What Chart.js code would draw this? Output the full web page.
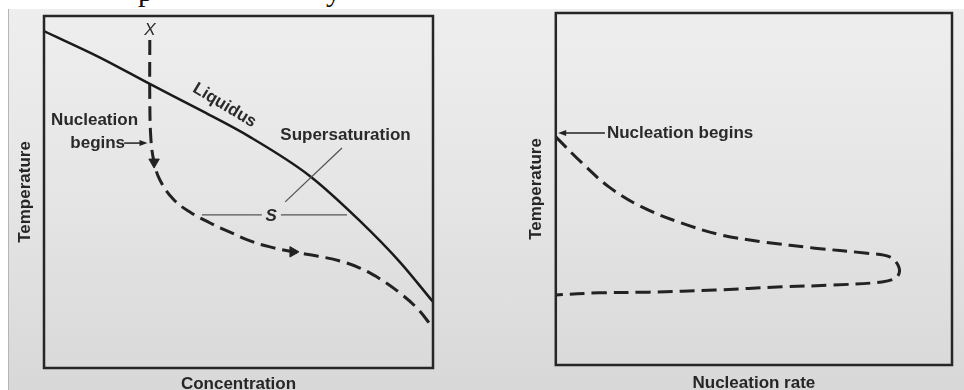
<!DOCTYPE html>
<html>
<head>
<meta charset="utf-8">
<script src="https://cdn.jsdelivr.net/npm/chart.js@4.4.1/dist/chart.umd.min.js"></script>
<style>
  html, body { margin: 0; padding: 0; width: 964px; height: 390px; overflow: hidden; background: #fff; }
  #photo {
    position: absolute; left: 8px; top: 9px; width: 956px; height: 381px;
    background: linear-gradient(to bottom, #eeeeee 0%, #e6e6e6 45%, #d8d8d8 100%);
    border-left: 1px solid #b5b5b5;
  }
  .pagetext { position: absolute; top: -24px; font: 30px 'Liberation Serif', serif; line-height: 30px; color: #111; }
  canvas { position: absolute; top: 0; }
  #left { left: 0; }
  #right { left: 482px; }
</style>
</head>
<body>
<div id="photo"></div>
<span class="pagetext" style="left:138px">p</span>
<span class="pagetext" style="left:326px">y</span>
<canvas id="left" width="482" height="400"></canvas>
<canvas id="right" width="482" height="400"></canvas>
<script>
'use strict';

// left panel: liquidus and the cooling path, both on a 0-100 scale
const liquidusX = [0, 14.4, 27.2, 40.1, 53.0, 68.4, 81.2, 91.5, 100];
const liquidusY = [95.7, 88.2, 80.7, 73.3, 65.6, 54.5, 41.8, 30.1, 18.8];
const pathX = [27.2, 27.2, 27.5, 28.3, 29.8, 33.2, 37.5, 42.7, 47.8, 53.0, 58.1, 64.0, 70.2, 76.1, 81.2, 86.4, 91.5, 95.9, 100];
const pathY = [93.2, 76.1, 64.8, 58.5, 53.4, 48.0, 44.3, 41.2, 38.6, 36.1, 34.4, 33.0, 31.8, 30.4, 28.4, 25.3, 21.3, 17.0, 11.4];

// right panel: nucleation rate against temperature
const rateX = [0, 6.6, 13.4, 21.7, 31.8, 41.9, 52.8, 65.4, 78.0, 84.3, 86.6, 86.1, 82.3, 69.7, 57.1, 40.2, 23.5, 10.9, 0];
const rateY = [64.8, 57.4, 50.6, 44.9, 40.3, 36.9, 34.9, 33.2, 31.8, 30.7, 27.8, 25.0, 23.6, 22.7, 22.2, 21.3, 20.7, 20.5, 19.9];

const FONT = "'Liberation Sans', Arial, sans-serif";
const INK = '#222';

const toPoints = (xs, ys) => xs.map((x, i) => ({x: x, y: ys[i]}));

function axis(title, pad) {
    return {
        type: 'linear',
        min: 0,
        max: 100,
        ticks: {display: false},
        grid: {display: false, drawTicks: false},
        border: {display: false},
        title: {
            display: true,
            text: title,
            color: '#262626',
            font: {family: FONT, size: 17, weight: 'bold', lineHeight: 1.2},
            padding: pad
        }
    };
}

// frame round the plot area, plus labels and arrows in data units
const notes = {
    id: 'notes',
    afterDraw(chart, args, opts) {
        const {ctx, chartArea: a} = chart;
        const sx = v => chart.scales.x.getPixelForValue(v);
        const sy = v => chart.scales.y.getPixelForValue(v);
        ctx.save();
        ctx.strokeStyle = '#262626';
        ctx.lineWidth = 2.5;
        ctx.strokeRect(a.left, a.top, a.width, a.height);

        (opts.items || []).forEach(it => {
            if (it.type === 'text') {
                ctx.save();
                ctx.translate(sx(it.x), sy(it.y));
                ctx.rotate((it.rot || 0) * Math.PI / 180);
                ctx.font = it.font || ('bold 17px ' + FONT);
                ctx.fillStyle = '#2a2a2a';
                ctx.textAlign = it.align || 'center';
                ctx.textBaseline = 'middle';
                ctx.fillText(it.text, 0, 0);
                ctx.restore();
            } else if (it.type === 'line') {
                ctx.strokeStyle = it.color || '#555';
                ctx.lineWidth = it.width || 1.3;
                ctx.beginPath();
                ctx.moveTo(sx(it.from[0]), sy(it.from[1]));
                ctx.lineTo(sx(it.to[0]), sy(it.to[1]));
                ctx.stroke();
            } else if (it.type === 'arrow') {
                const x0 = sx(it.from[0]), y0 = sy(it.from[1]);
                const x1 = sx(it.to[0]), y1 = sy(it.to[1]);
                const ang = Math.atan2(y1 - y0, x1 - x0);
                ctx.strokeStyle = INK;
                ctx.fillStyle = INK;
                ctx.lineWidth = 1.5;
                ctx.beginPath();
                ctx.moveTo(x0, y0);
                ctx.lineTo(x1 - 6 * Math.cos(ang), y1 - 6 * Math.sin(ang));
                ctx.stroke();
                ctx.beginPath();
                ctx.moveTo(x1, y1);
                ctx.lineTo(x1 - 8 * Math.cos(ang) + 3 * Math.sin(ang), y1 - 8 * Math.sin(ang) - 3 * Math.cos(ang));
                ctx.lineTo(x1 - 8 * Math.cos(ang) - 3 * Math.sin(ang), y1 - 8 * Math.sin(ang) + 3 * Math.cos(ang));
                ctx.closePath();
                ctx.fill();
            }
        });
        ctx.restore();
    }
};

const common = {
    responsive: false,
    animation: false,
    devicePixelRatio: 1,
    events: []
};

new Chart(document.getElementById('left'), {
    type: 'line',
    data: {
        datasets: [
            {
                data: toPoints(liquidusX, liquidusY),
                borderColor: '#1a1a1a',
                borderWidth: 2.5,
                pointRadius: 0,
                cubicInterpolationMode: 'monotone'
            },
            {
                data: toPoints(pathX, pathY),
                borderColor: INK,
                borderWidth: 3,
                borderDash: [15, 7],
                tension: 0.4,
                // arrowheads on the path
                pointStyle: 'triangle',
                pointRadius: pathX.map((v, i) => (i === 3 || i === 11) ? 6 : 0),
                pointRotation: pathX.map((v, i) => i === 3 ? 180 : 90),
                pointBackgroundColor: INK,
                pointBorderColor: INK,
                pointBorderWidth: 1
            }
        ]
    },
    options: Object.assign({}, common, {
        layout: {padding: {left: 0, right: 49, top: 16, bottom: 0}},
        scales: {
            x: axis('Concentration', {top: 5.8, bottom: 5.8}),
            y: axis('Temperature', {top: 14.8, bottom: 8.8})
        },
        plugins: {
            legend: {display: false},
            tooltip: {enabled: false},
            notes: {
                items: [
                    {type: 'text', x: 27.2, y: 96.0, text: 'X', font: 'italic 17px ' + FONT},
                    {type: 'text', x: 46.4, y: 74.6, text: 'Liquidus', rot: 31},
                    {type: 'text', x: 13.0, y: 70.5, text: 'Nucleation'},
                    {type: 'text', x: 13.8, y: 63.9, text: 'begins'},
                    {type: 'arrow', from: [20.6, 63.9], to: [26.6, 63.9]},
                    {type: 'text', x: 77.5, y: 66.2, text: 'Supersaturation'},
                    {type: 'line', from: [76.6, 62.5], to: [62.0, 47.2]},
                    {type: 'line', from: [40.6, 43.5], to: [56.0, 43.5]},
                    {type: 'line', from: [60.9, 43.5], to: [77.9, 43.5]},
                    {type: 'text', x: 58.4, y: 43.2, text: 'S', font: 'italic bold 17px ' + FONT}
                ]
            }
        }
    }),
    plugins: [notes]
});

new Chart(document.getElementById('right'), {
    type: 'line',
    data: {
        datasets: [
            {
                data: toPoints(rateX, rateY),
                borderColor: INK,
                borderWidth: 3,
                borderDash: [15, 7],
                tension: 0.35,
                pointRadius: 0
            }
        ]
    },
    options: Object.assign({}, common, {
        layout: {padding: {left: 0, right: 12, top: 13, bottom: 0}},
        scales: {
            x: axis('Nucleation rate', {top: 7.8, bottom: 6.8}),
            y: axis('Temperature', {top: 43.8, bottom: 9.6})
        },
        plugins: {
            legend: {display: false},
            tooltip: {enabled: false},
            notes: {
                items: [
                    {type: 'arrow', from: [12.4, 65.9], to: [0.6, 65.9]},
                    {type: 'text', x: 12.9, y: 65.9, text: 'Nucleation begins', align: 'left'}
                ]
            }
        }
    }),
    plugins: [notes]
});
</script>
</body>
</html>
